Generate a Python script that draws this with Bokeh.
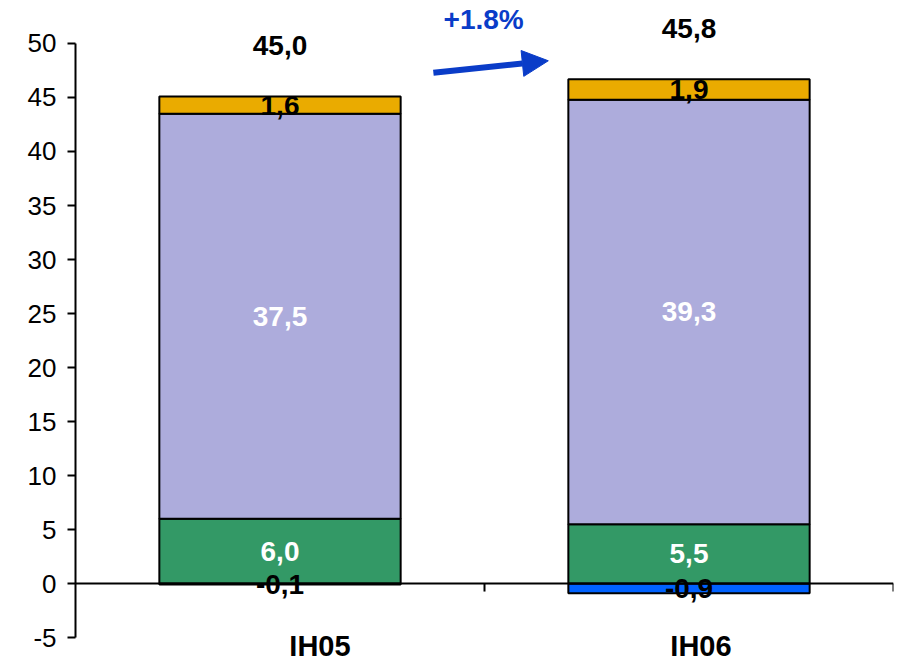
import numpy as np
from bokeh.plotting import figure
from bokeh.models import (ColumnDataSource, Span, Arrow, NormalHead, FixedTicker,
                          Range1d, Label, CustomJSTickFormatter)
from bokeh.core.properties import value
from bokeh.embed import file_html
from bokeh.resources import INLINE

# --- data -------------------------------------------------------------
periods = ["IH05", "IH06"]
negative = [-0.1, -0.9]       # blue, below zero
green = [6.0, 5.5]
lavender = [37.5, 39.3]
gold = [1.6, 1.9]
totals = [45.0, 45.8]
growth_label = "+1.8%"
y_ticks = list(range(-5, 51, 5))

FONT = "Liberation Sans"
C_BLUE = "#0062FF"
C_GREEN = "#339966"
C_LAV = "#ADACDC"
C_GOLD = "#EAAB00"
C_TEXT_BLUE = "#0A3CC8"

def fmt(v):
    return f"{v:.1f}".replace(".", ",")

# bar positions: one unit per category, bars centred in each slot
xs = np.arange(len(periods)) + 0.5
bar_w = 0.59

neg = np.array(negative)
g = np.array(green)
lv = np.array(lavender)
gd = np.array(gold)

p = figure(width=898, height=662, output_backend="svg", toolbar_location=None,
           x_range=Range1d(0, len(periods)), y_range=Range1d(-7.31, 53.98),
           x_axis_location=None, min_border_left=75, min_border_right=5,
           min_border_top=0, min_border_bottom=0)
p.outline_line_color = None
p.xgrid.visible = False
p.ygrid.visible = False
p.background_fill_color = "white"
p.border_fill_color = "white"

# y axis
ax = p.yaxis[0]
ax.ticker = FixedTicker(ticks=y_ticks)
ax.formatter = CustomJSTickFormatter(code="return String(tick);")
ax.bounds = (min(y_ticks), max(y_ticks))
ax.major_tick_out = 8
ax.major_tick_in = 0
ax.minor_tick_line_color = None
ax.axis_line_width = 2
ax.major_tick_line_width = 2
ax.axis_line_color = "black"
ax.major_tick_line_color = "black"
ax.major_label_text_font = FONT
ax.major_label_text_font_size = "26px"
ax.major_label_text_color = "black"
ax.major_label_standoff = 11

# stacked segments
segs = [
    (neg, np.zeros_like(neg), C_BLUE),
    (np.zeros_like(g), g, C_GREEN),
    (g, g + lv, C_LAV),
    (g + lv, g + lv + gd, C_GOLD),
]
for bottom, top, col in segs:
    src = ColumnDataSource(dict(x=xs, bottom=bottom, top=top))
    p.vbar(x="x", width=bar_w, bottom="bottom", top="top", source=src,
           fill_color=col, line_color="black", line_width=2)

# horizontal zero line with category separators
p.add_layout(Span(location=0, dimension="width", line_color="black", line_width=2))
bounds_x = np.arange(len(periods) + 1)
p.segment(x0=bounds_x[1:], y0=np.zeros(len(periods)), x1=bounds_x[1:],
          y1=np.full(len(periods), -0.74), line_color="black", line_width=2)

# segment value labels (centred in each segment)
def seg_labels(bottom, top, vals, color):
    src = ColumnDataSource(dict(x=xs, y=(bottom + top) / 2,
                                t=[fmt(v) for v in vals]))
    p.text(x="x", y="y", text="t", source=src, text_align="center",
           text_baseline="middle", text_font=value(FONT),
           text_font_style="bold", text_font_size="28px", text_color=color)

seg_labels(neg, np.zeros_like(neg), negative, "black")
seg_labels(np.zeros_like(g), g, green, "white")
seg_labels(g, g + lv, lavender, "white")
seg_labels(g + lv, g + lv + gd, gold, "black")

# totals above stacks
tot_src = ColumnDataSource(dict(x=xs, y=g + lv + gd, t=[fmt(v) for v in totals]))
p.text(x="x", y="y", text="t", source=tot_src, y_offset=-51,
       text_align="center", text_baseline="middle", text_font=value(FONT),
       text_font_style="bold", text_font_size="28px", text_color="black")

# category labels below the axis
cat_src = ColumnDataSource(dict(x=xs, y=np.full(len(periods), -5.74),
                                t=periods, dx=[40, 12]))
p.text(x="x", y="y", text="t", source=cat_src, x_offset="dx",
       text_align="center", text_baseline="middle", text_font=value(FONT),
       text_font_style="bold", text_font_size="29px", text_color="black")

# growth arrow between the two totals
p.add_layout(Arrow(end=NormalHead(size=26, fill_color=C_TEXT_BLUE,
                                  line_color=C_TEXT_BLUE),
                   x_start=0.875, y_start=47.3, x_end=1.156, y_end=48.4,
                   line_color=C_TEXT_BLUE, line_width=6))
p.add_layout(Label(x=0.998, y=52.2, text=growth_label, text_align="center",
                   text_baseline="middle", text_font=FONT,
                   text_font_style="bold", text_font_size="28px",
                   text_color=C_TEXT_BLUE))

open("out.html", "w").write(file_html(p, INLINE))
